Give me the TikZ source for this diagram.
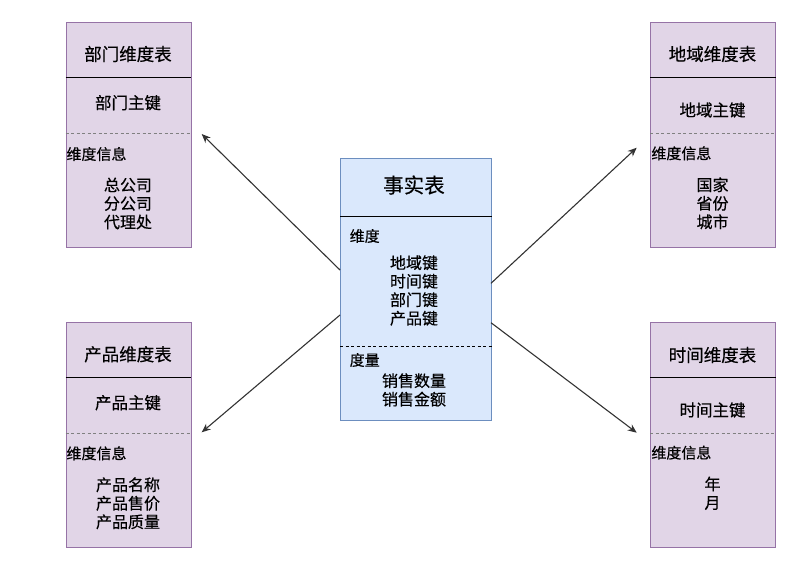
\documentclass[tikz,border=0pt]{standalone}
\usepackage{fontspec}
\setmainfont[FakeBold=0.4]{Noto Sans CJK SC}
\usetikzlibrary{arrows.meta}
\definecolor{dimfill}{HTML}{E1D5E7}
\definecolor{dimline}{HTML}{9673A6}
\definecolor{factfill}{HTML}{DAE8FC}
\definecolor{factline}{HTML}{6C8EBF}
\begin{document}
\begin{tikzpicture}[x=1pt,y=-1pt,
  dimbox/.style={draw=dimline,fill=dimfill,line width=0.8pt,anchor=north west,inner sep=0,minimum width=125pt,minimum height=225pt},
  factbox/.style={draw=factline,fill=factfill,line width=0.8pt,anchor=north west,inner sep=0,minimum width=151pt,minimum height=262pt},
  dimtitle/.style={font=\fontsize{17.5}{20}\selectfont},
  facttitle/.style={font=\fontsize{20.5}{24}\selectfont},
  keytext/.style={font=\fontsize{16.5}{19}\selectfont},
  infotext/.style={font=\fontsize{15}{18}\selectfont,anchor=west,inner sep=0},
  items/.style={font=\fontsize{16}{18.5}\selectfont,align=center},
  arr/.style={draw=black!80,line width=1.1pt,-{Stealth[length=9pt,width=7.5pt]}}]
\useasboundingbox (0,0) rectangle (797,562);
% boxes
\node[dimbox] (dept) at (65.5,21.7) {};
\node[dimbox] (region) at (650,21.7) {};
\node[dimbox] (product) at (65.5,321.7) {};
\node[dimbox] (time) at (650,321.7) {};
\node[factbox] (fact) at (340,158.3) {};
% section lines
\foreach \b in {dept,region,product,time} {
  \draw[line width=0.8pt] ([yshift=-55.6pt]\b.north west) -- ([yshift=-55.6pt]\b.north east);
  \draw[gray,line width=0.9pt,dash pattern=on 3pt off 2.5pt] ([yshift=-111.6pt]\b.north west) -- ([yshift=-111.6pt]\b.north east);
}
\draw[line width=0.8pt] ([yshift=-57.7pt]fact.north west) -- ([yshift=-57.7pt]fact.north east);
\draw[line width=0.8pt,dash pattern=on 3pt off 2.5pt] ([yshift=-187.7pt]fact.north west) -- ([yshift=-187.7pt]fact.north east);
% dept
\node[dimtitle] (deptT) at (128,54) {部门维度表};
\node[keytext] (deptK) at (128,102.7) {部门主键};
\node[infotext] (deptI) at (66.3,154) {维度信息};
\node[items] (deptL) at (128,203.5) {总公司\\分公司\\代理处};
% region
\node[dimtitle] (regionT) at (712.5,54) {地域维度表};
\node[keytext] (regionK) at (712.5,110) {地域主键};
\node[infotext] (regionI) at (651.2,153.3) {维度信息};
\node[items] (regionL) at (712.5,203.3) {国家\\省份\\城市};
% product
\node[dimtitle] (productT) at (128,354.3) {产品维度表};
\node[keytext] (productK) at (128,402.7) {产品主键};
\node[infotext] (productI) at (66.3,453.3) {维度信息};
\node[items] (productL) at (128,503.3) {产品名称\\产品售价\\产品质量};
% time
\node[dimtitle] (timeT) at (712.5,355) {时间维度表};
\node[keytext] (timeK) at (712.5,410) {时间主键};
\node[infotext] (timeI) at (651.2,452.7) {维度信息};
\node[items] (timeL) at (712.5,493.3) {年\\月};
% fact
\node[facttitle] (factT) at (414,185) {事实表};
\node[infotext] (factD) at (349.5,236) {维度};
\node[items] (factDL) at (414,290.5) {地域键\\时间键\\部门键\\产品键};
\node[infotext] (factM) at (349.5,360) {度量};
\node[items] (factML) at (414,390) {销售数量\\销售金额};
% arrows
\coordinate (fd) at (340,270);
\coordinate (fp) at (340,315);
\coordinate (fr) at (491,283.3);
\coordinate (ft) at (491,322.7);
\coordinate (dE) at (201.7,134);
\coordinate (pE) at (201.7,432.3);
\coordinate (rE) at (636.7,147.7);
\coordinate (tE) at (636.7,432.7);
\draw[arr] (fd) -- (dE);
\draw[arr] (fp) -- (pE);
\draw[arr] (fr) -- (rE);
\draw[arr] (ft) -- (tE);
\end{tikzpicture}
\end{document}
